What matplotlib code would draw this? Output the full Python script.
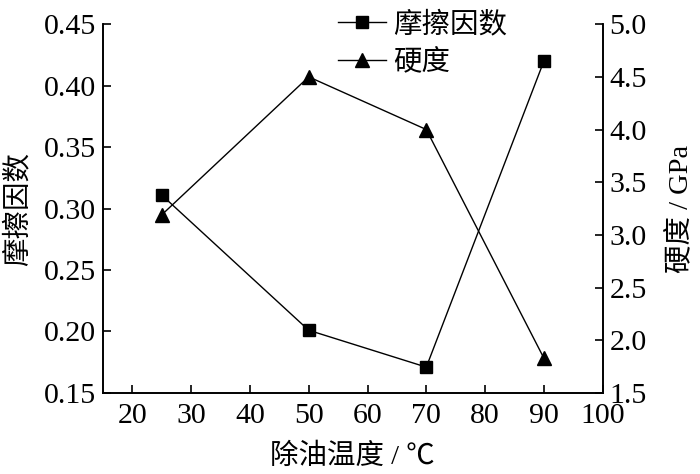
import matplotlib
matplotlib.use("Agg")
import matplotlib.pyplot as plt

plt.rcParams['font.family'] = ['Liberation Serif', 'Noto Sans CJK SC']
plt.rcParams['axes.unicode_minus'] = False

# data
temperature = [25, 50, 70, 90]
friction = [0.311, 0.201, 0.171, 0.420]
hardness = [3.19, 4.50, 4.00, 1.83]

x_ticks = [20, 30, 40, 50, 60, 70, 80, 90, 100]
left_ticks = [0.15, 0.20, 0.25, 0.30, 0.35, 0.40, 0.45]
right_ticks = [1.5, 2.0, 2.5, 3.0, 3.5, 4.0, 4.5, 5.0]

fig = plt.figure(figsize=(7, 4.74), dpi=100)
ax = fig.add_axes([0.147, 0.171, 0.714, 0.778])
ax2 = ax.twinx()

l1, = ax.plot(temperature, friction, color='black', lw=1.0, marker='s', ms=8.5, label='摩擦因数')
l2, = ax2.plot(temperature, hardness, color='black', lw=1.0, marker='^', ms=10, label='硬度')

ax.set_xlim(15, 100)
ax.set_ylim(0.15, 0.45)
ax2.set_ylim(1.5, 5.0)
ax.set_xticks(x_ticks)
ax.set_yticks(left_ticks)
ax.set_yticklabels([f"{v:.2f}" for v in left_ticks])
ax2.set_yticks(right_ticks)
ax2.set_yticklabels([f"{v:.1f}" for v in right_ticks])

for a in (ax, ax2):
    a.spines['top'].set_visible(False)
    for s in a.spines.values():
        s.set_linewidth(1.2)
    a.tick_params(direction='in', length=6, width=1.2, labelsize=21.5)
ax.tick_params(axis='x', pad=7)
ax.tick_params(axis='y', pad=5)
ax2.tick_params(axis='y', pad=5)

ax.set_xlabel('除油温度 / ℃', fontsize=20.5, labelpad=11)
ax.set_ylabel('摩擦因数', fontsize=20.5, labelpad=9)
ax2.set_ylabel('硬度 / GPa', fontsize=20.5, labelpad=15)

ax2.legend(handles=[l1, l2], loc='upper left', bbox_to_anchor=(0.47, 1.035),
           frameon=False, fontsize=20.5, handlelength=1.7, handletextpad=0.25,
           labelspacing=0.4, borderaxespad=0, borderpad=0)

fig.savefig('out.png', dpi=100)
